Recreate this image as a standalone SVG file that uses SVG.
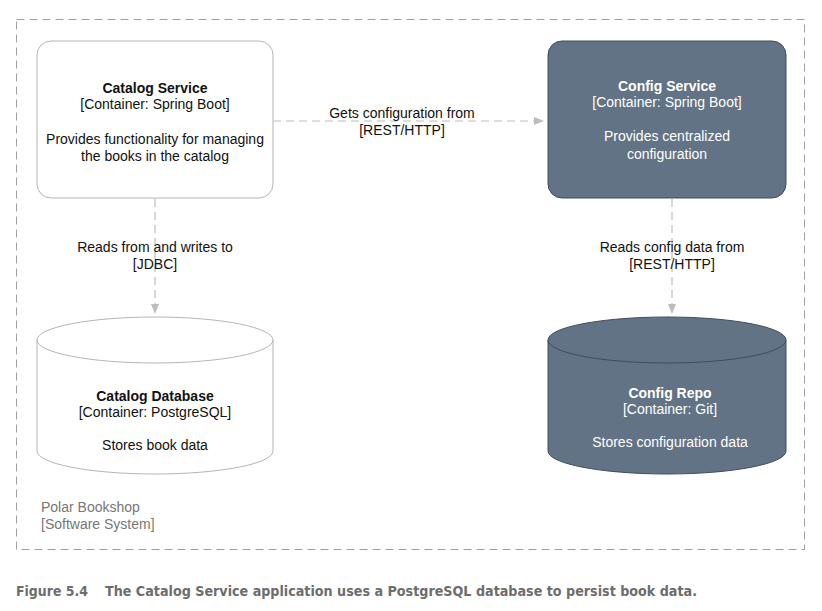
<svg xmlns="http://www.w3.org/2000/svg" width="822" height="611" viewBox="0 0 822 611">
<style>
text{font-family:"Liberation Sans",Arial,sans-serif;font-size:14px;text-anchor:middle}
.b{font-weight:bold}
.lt{fill:#111}
.wt{fill:#fff}
.lbl{fill:#111}
.light{fill:#fff;stroke:#b5b5b5;stroke-width:1}
.dark{fill:#627385;stroke:#3e4e5e;stroke-width:1}
.conn{fill:none;stroke:#bdbdbd;stroke-width:1.2;stroke-dasharray:8,5}
</style>
<defs>
<marker id="ah" viewBox="0 0 10 10" refX="10" refY="5" markerWidth="10" markerHeight="10" markerUnits="userSpaceOnUse" orient="auto">
<path d="M0,1 L10,5 L0,9 Z" fill="#bdbdbd"/>
</marker>
</defs>
<rect width="822" height="611" fill="#fff"/>
<g id="boundary">
<rect x="16.5" y="19.5" width="788" height="530" fill="none" stroke="#a0a0a0" stroke-width="1" stroke-dasharray="8,5"/>
<text x="41" y="512" style="text-anchor:start;fill:#777">Polar Bookshop</text>
<text x="41" y="529" style="text-anchor:start;fill:#777">[Software System]</text>
</g>
<g id="connectors">
<path class="conn" d="M273,121 L544,121" marker-end="url(#ah)"/>
<text class="lbl" x="402" y="118">Gets configuration from</text>
<text class="lbl" x="402" y="135">[REST/HTTP]</text>
<path class="conn" d="M155,199 L155,314" marker-end="url(#ah)"/>
<text class="lbl" x="155" y="252">Reads from and writes to</text>
<text class="lbl" x="155" y="269">[JDBC]</text>
<path class="conn" d="M672,199 L672,314" marker-end="url(#ah)"/>
<text class="lbl" x="672" y="252">Reads config data from</text>
<text class="lbl" x="672" y="269">[REST/HTTP]</text>
</g>
<g id="catalog-service">
<rect class="light" x="37" y="41" width="236" height="157" rx="14"/>
<text class="lt b" x="155" y="93">Catalog Service</text>
<text class="lt" x="155" y="109">[Container: Spring Boot]</text>
<text class="lt" x="155" y="144">Provides functionality for managing</text>
<text class="lt" x="155" y="161">the books in the catalog</text>
</g>
<g id="config-service">
<rect class="dark" x="548" y="41" width="238" height="157" rx="14"/>
<text class="wt b" x="667" y="91">Config Service</text>
<text class="wt" x="667" y="107">[Container: Spring Boot]</text>
<text class="wt" x="667" y="141">Provides centralized</text>
<text class="wt" x="667" y="159">configuration</text>
</g>
<g id="catalog-database">
<path class="light" d="M37,340 L37,451 A118,23 0 0 0 273,451 L273,340 A118,23 0 0 0 37,340 Z"/>
<path class="light" d="M37,340 A118,23 0 0 0 273,340" fill="none"/>
<text class="lt b" x="155" y="401">Catalog Database</text>
<text class="lt" x="155" y="417">[Container: PostgreSQL]</text>
<text class="lt" x="155" y="450">Stores book data</text>
</g>
<g id="config-repo">
<path class="dark" d="M548,340 L548,451 A119,23 0 0 0 786,451 L786,340 A119,23 0 0 0 548,340 Z"/>
<path class="dark" d="M548,340 A119,23 0 0 0 786,340" fill="none"/>
<text class="wt b" x="670" y="398">Config Repo</text>
<text class="wt" x="670" y="414">[Container: Git]</text>
<text class="wt" x="670" y="447">Stores configuration data</text>
</g>
<g id="caption">
<text x="16" y="596" style="text-anchor:start;font-family:'DejaVu Sans Condensed','DejaVu Sans',sans-serif;font-weight:bold;font-size:14px;fill:#6d6d6d" textLength="72" lengthAdjust="spacingAndGlyphs">Figure 5.4</text>
<text x="105" y="596" style="text-anchor:start;font-family:'DejaVu Sans Condensed','DejaVu Sans',sans-serif;font-weight:bold;font-size:14px;fill:#6d6d6d" textLength="592" lengthAdjust="spacingAndGlyphs">The Catalog Service application uses a PostgreSQL database to persist book data.</text>
</g>
</svg>
